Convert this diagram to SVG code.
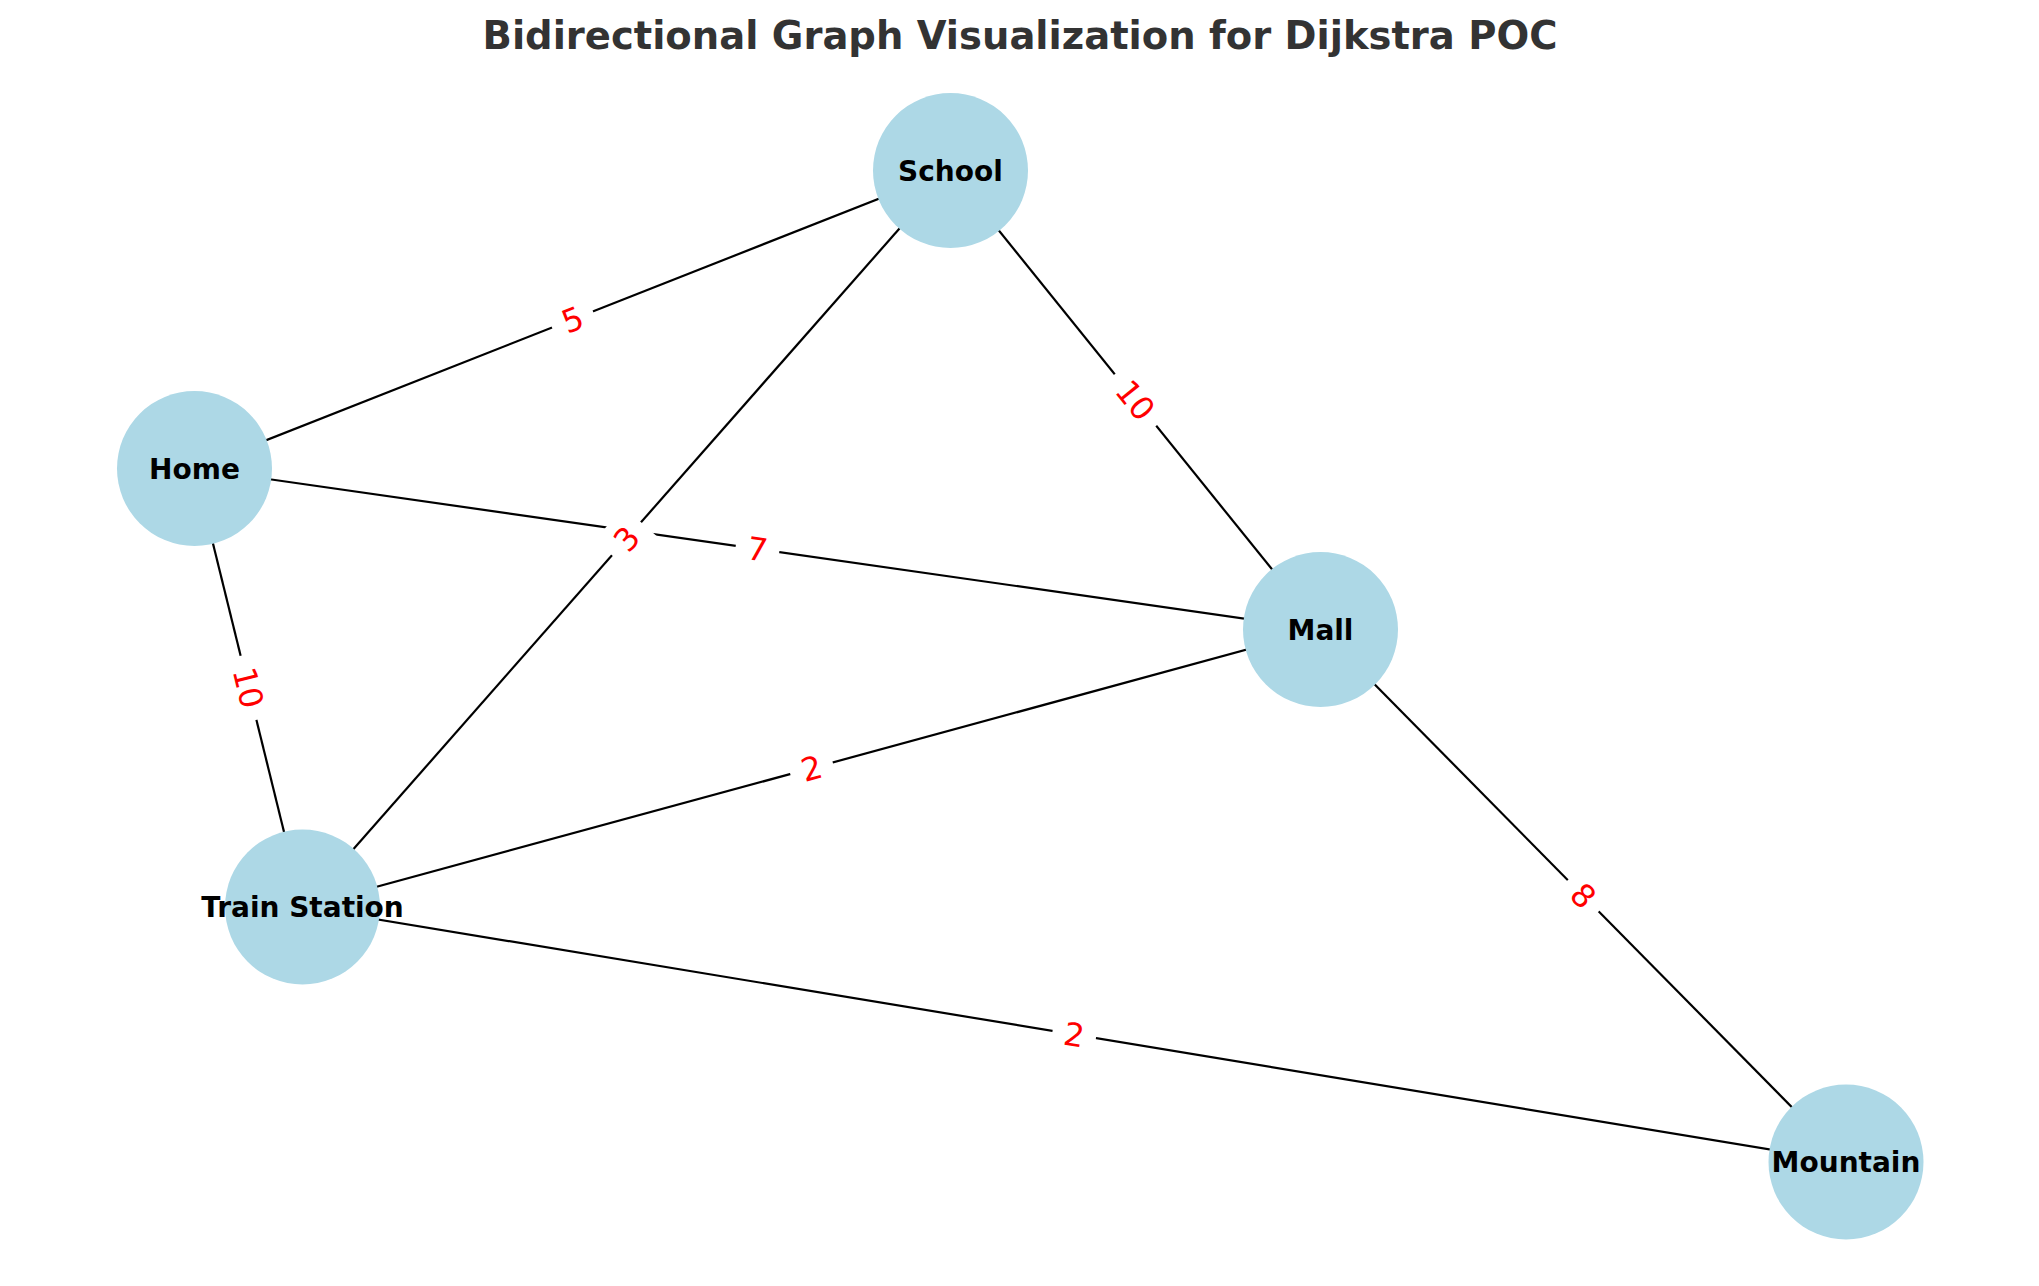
<svg xmlns="http://www.w3.org/2000/svg" width="2039" height="1286" viewBox="0 0 2039 1286">
<style>
.edge{stroke:#000;stroke-width:2.2;fill:none}
.node circle{fill:#ADD8E6}
.node text{font-family:"DejaVu Sans",sans-serif;font-weight:bold;font-size:28px;fill:#000;text-anchor:middle}
.lbl rect{fill:#fff}
.lbl text{font-family:"DejaVu Sans",sans-serif;font-size:32px;fill:#f00;text-anchor:middle}
.title{font-family:"DejaVu Sans",sans-serif;font-weight:bold;font-size:38.5px;fill:#333;text-anchor:middle}
</style>
<rect width="2039" height="1286" fill="#fff"/>
<text class="title" x="1020" y="49">Bidirectional Graph Visualization for Dijkstra POC</text>
<g id="edges">
<line class="edge" x1="194.5" y1="468.5" x2="950.5" y2="170.5"/>
<line class="edge" x1="194.5" y1="468.5" x2="1320.5" y2="629.5"/>
<line class="edge" x1="194.5" y1="468.5" x2="302.5" y2="907"/>
<line class="edge" x1="950.5" y1="170.5" x2="302.5" y2="907"/>
<line class="edge" x1="950.5" y1="170.5" x2="1320.5" y2="629.5"/>
<line class="edge" x1="302.5" y1="907" x2="1320.5" y2="629.5"/>
<line class="edge" x1="1320.5" y1="629.5" x2="1846" y2="1162"/>
<line class="edge" x1="302.5" y1="907" x2="1846" y2="1162"/>
<g class="lbl" transform="translate(572.5 319.5) rotate(-21.5)"><rect x="-22" y="-23" width="44" height="46"/><text y="11.5">5</text></g>
<g class="lbl" transform="translate(757.5 549) rotate(8.1)"><rect x="-22" y="-23" width="44" height="46"/><text y="11.5">7</text></g>
<g class="lbl" transform="translate(248.5 687.75) rotate(76.2)"><rect x="-33" y="-23" width="66" height="46"/><text y="11.5">10</text></g>
<g class="lbl" transform="translate(626.5 538.75) rotate(-48.7)"><rect x="-22" y="-23" width="44" height="46"/><text y="11.5">3</text></g>
<g class="lbl" transform="translate(1135.5 400) rotate(51.1)"><rect x="-33" y="-23" width="66" height="46"/><text y="11.5">10</text></g>
<g class="lbl" transform="translate(811.5 768.25) rotate(-15.25)"><rect x="-22" y="-23" width="44" height="46"/><text y="11.5">2</text></g>
<g class="lbl" transform="translate(1583.25 895.75) rotate(45.4)"><rect x="-22" y="-23" width="44" height="46"/><text y="11.5">8</text></g>
<g class="lbl" transform="translate(1074.25 1034.5) rotate(9.4)"><rect x="-22" y="-23" width="44" height="46"/><text y="11.5">2</text></g>
</g>
<g id="node-school" class="node"><circle cx="950.5" cy="170.5" r="77.5"/><text x="950.5" y="180.5">School</text></g>
<g id="node-home" class="node"><circle cx="194.5" cy="468.5" r="77.5"/><text x="194.5" y="478.5">Home</text></g>
<g id="node-mall" class="node"><circle cx="1320.5" cy="629.5" r="77.5"/><text x="1320.5" y="639.5">Mall</text></g>
<g id="node-train" class="node"><circle cx="302.5" cy="907" r="77.5"/><text x="302.5" y="917">Train Station</text></g>
<g id="node-mountain" class="node"><circle cx="1846" cy="1162" r="77.5"/><text x="1846" y="1172">Mountain</text></g>
</svg>
